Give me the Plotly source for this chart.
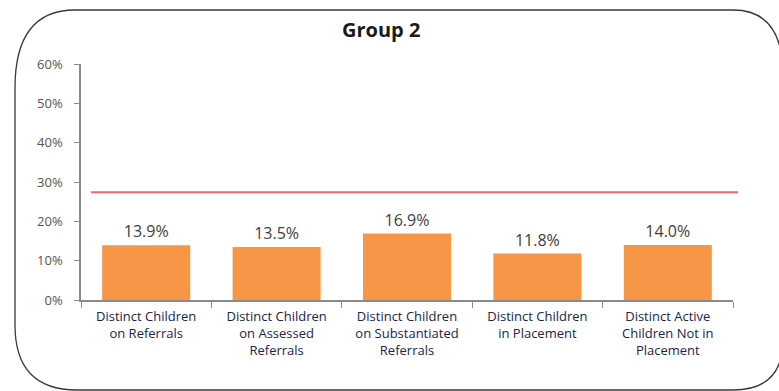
import plotly.graph_objects as go

# Chart data
categories = [
    "Distinct Children<br>on Referrals",
    "Distinct Children<br>on Assessed<br>Referrals",
    "Distinct Children<br>on Substantiated<br>Referrals",
    "Distinct Children<br>in Placement",
    "Distinct Active<br>Children Not in<br>Placement",
]
rates = [0.139, 0.135, 0.169, 0.118, 0.140]
threshold = 0.274
y_ticks = [0, 0.1, 0.2, 0.3, 0.4, 0.5, 0.6]
y_tick_labels = ["0%", "10%", "20%", "30%", "40%", "50%", "60%"]
title_text = "Group 2"

W, H = 779, 391
ML, MR, MT, MB = 81, 46, 64, 91
PW, PH = W - ML - MR, H - MT - MB


def px(x):
    return (x - ML) / PW


def py(y):
    return (H - MB - y) / PH


fig = go.Figure()
fig.add_trace(go.Bar(
    x=categories,
    y=rates,
    marker=dict(color="#F79646", line=dict(width=0)),
    text=[f"{v * 100:.1f}%" for v in rates],
    textposition="outside",
    textfont=dict(family="Open Sans", size=16, color="#404040"),
    cliponaxis=False,
    hoverinfo="skip",
))

# threshold line
fig.add_shape(type="line", xref="paper", yref="y",
              x0=px(91), x1=px(738), y0=threshold, y1=threshold,
              line=dict(color="#F2676A", width=2))

# rounded frame around the chart
L, R, T, B = 15, 783, 10, 390
path = (
    f"M {px(L + 60)},{py(T)} L {px(R - 50)},{py(T)} "
    f"Q {px(R)},{py(T)} {px(R)},{py(T + 65)} "
    f"L {px(R)},{py(B - 50)} "
    f"Q {px(R)},{py(B)} {px(R - 50)},{py(B)} "
    f"L {px(L + 62)},{py(B)} "
    f"Q {px(L)},{py(B)} {px(L)},{py(B - 65)} "
    f"L {px(L)},{py(T + 78)} "
    f"Q {px(L)},{py(T)} {px(L + 60)},{py(T)} Z"
)
fig.add_shape(type="path", xref="paper", yref="paper", path=path,
              line=dict(color="#3a3a3a", width=1.3), layer="above")

fig.update_layout(
    width=W, height=H,
    margin=dict(l=ML, r=MR, t=MT, b=MB, pad=0),
    paper_bgcolor="white", plot_bgcolor="white",
    showlegend=False,
    bargap=0.325,
    title=dict(text=f"<b>{title_text}</b>", x=px(400), xanchor="center",
               y=1 - 30 / H, yanchor="middle",
               font=dict(family="Open Sans", size=20, color="#1a1a1a")),
    xaxis=dict(
        type="category",
        showline=True, linecolor="#8a8a8a", linewidth=1.5,
        ticks="outside", tickson="boundaries", ticklen=6, tickcolor="#8a8a8a",
        ticklabelstandoff=4,
        tickfont=dict(family="Open Sans", size=13, color="#23234a"),
        showgrid=False, zeroline=False, fixedrange=True,
    ),
    yaxis=dict(
        range=[0, 0.6],
        tickvals=y_ticks, ticktext=y_tick_labels,
        showline=True, linecolor="#8a8a8a", linewidth=1.5,
        ticks="outside", ticklen=5, tickcolor="#8a8a8a",
        ticklabelstandoff=9,
        tickfont=dict(family="Open Sans", size=13, color="#555555"),
        showgrid=False, zeroline=False, fixedrange=True,
    ),
)

fig.write_html("out.html")
